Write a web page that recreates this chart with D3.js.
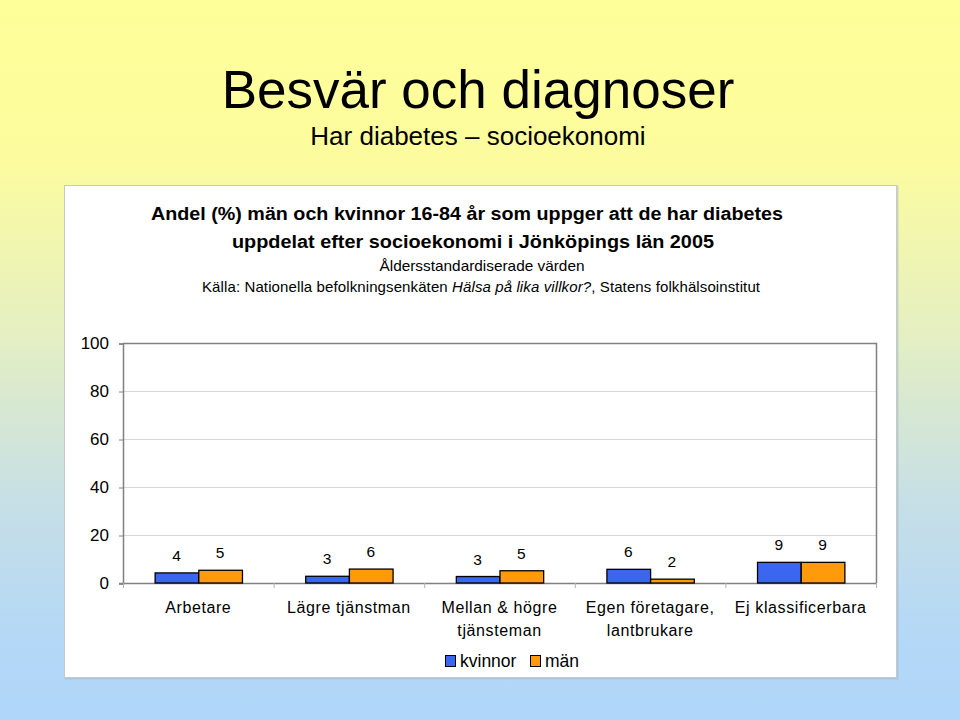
<!DOCTYPE html>
<html><head><meta charset="utf-8">
<script src="https://cdn.jsdelivr.net/npm/d3@7/dist/d3.min.js"></script>
<style>body{margin:0;padding:0;overflow:hidden}svg{display:block}</style>
</head><body>
<script>
const categories = [["Arbetare"], ["Lägre tjänstman"], ["Mellan & högre", "tjänsteman"], ["Egen företagare,", "lantbrukare"], ["Ej klassificerbara"]];
const kvinnor = [4.2, 2.8, 2.7, 5.7, 8.6];
const man = [5.3, 5.8, 5.1, 1.6, 8.6];
const seriesNames = ["kvinnor", "män"];
const yTicks = [0, 20, 40, 60, 80, 100];

const W = 960, H = 720;
const svg = d3.select("body").append("svg").attr("width", W).attr("height", H);
const defs = svg.append("defs");
const lg = defs.append("linearGradient").attr("id", "bg").attr("x1", 0).attr("y1", 0).attr("x2", 0).attr("y2", 1);
[[0, "#FFFF99"], [0.22, "#FCFC9E"], [0.45, "#E6F0C0"], [0.7, "#C6DFE6"], [0.88, "#B4D8F6"], [1, "#B0D6FA"]].forEach(s =>
  lg.append("stop").attr("offset", s[0]).attr("stop-color", s[1]));
svg.append("rect").attr("width", W).attr("height", H).attr("fill", "url(#bg)");

const font = "Liberation Sans, Arial, sans-serif";
svg.append("text").attr("x", 478).attr("y", 108).attr("text-anchor", "middle")
  .attr("font-family", font).attr("font-size", 53).text("Besvär och diagnoser");
svg.append("text").attr("x", 478).attr("y", 145).attr("text-anchor", "middle")
  .attr("font-family", font).attr("font-size", 26).text("Har diabetes – socioekonomi");

// white panel
svg.append("rect").attr("x", 65.5).attr("y", 186.5).attr("width", 832).attr("height", 492)
  .attr("fill", "none").attr("stroke", "#9fb6c8").attr("stroke-width", 2).attr("opacity", 0.5);
svg.append("rect").attr("x", 64.5).attr("y", 185.5).attr("width", 832).attr("height", 492)
  .attr("fill", "#fff").attr("stroke", "#c8c8c8");

const tg = svg.append("g").attr("font-family", font).attr("text-anchor", "middle");
tg.append("text").attr("x", 467).attr("y", 220).attr("font-size", 18).attr("font-weight", "bold")
  .attr("textLength", 632).attr("lengthAdjust", "spacingAndGlyphs")
  .text("Andel (%) män och kvinnor 16-84 år som uppger att de har diabetes");
tg.append("text").attr("x", 473).attr("y", 248).attr("font-size", 18).attr("font-weight", "bold")
  .attr("textLength", 482).attr("lengthAdjust", "spacingAndGlyphs")
  .text("uppdelat efter socioekonomi i Jönköpings län 2005");
tg.append("text").attr("x", 482).attr("y", 271).attr("font-size", 15)
  .attr("textLength", 205).attr("lengthAdjust", "spacingAndGlyphs")
  .text("Åldersstandardiserade värden");
const src = tg.append("text").attr("x", 481).attr("y", 292).attr("font-size", 15)
  .attr("textLength", 558).attr("lengthAdjust", "spacing");
src.append("tspan").text("Källa: Nationella befolkningsenkäten ");
src.append("tspan").attr("font-style", "italic").text("Hälsa på lika villkor?");
src.append("tspan").text(", Statens folkhälsoinstitut");

// plot
const x0 = 123, x1 = 876, yTop = 343, yBot = 583;
const x = d3.scaleBand().domain(d3.range(categories.length)).range([x0, x1]).paddingInner(0.42).paddingOuter(0.21);
const xs = d3.scaleBand().domain(seriesNames).range([0, x.bandwidth()]);
const y = d3.scaleLinear().domain([0, 100]).range([yBot, yTop]);

const g = svg.append("g");
g.selectAll("line.grid").data(yTicks.filter(t => t > 0 && t < 100)).enter().append("line")
  .attr("x1", x0).attr("x2", x1).attr("y1", d => y(d) + 0.5).attr("y2", d => y(d) + 0.5)
  .attr("stroke", "#d8d8d8");
g.append("path").attr("d", `M${x0},${yTop + 0.5}H${x1 + 0.5}V${yBot}`).attr("fill", "none").attr("stroke", "#808080").attr("stroke-width", 1.5);

const yAxis = d3.axisLeft(y).tickValues(yTicks).tickSize(4).tickPadding(10);
const ya = svg.append("g").attr("transform", `translate(${x0},0.5)`).call(yAxis);
ya.select(".domain").attr("stroke", "#808080").attr("stroke-width", 1.5);
ya.selectAll(".tick line").attr("stroke", "#808080");
ya.selectAll("text").attr("font-family", font).attr("font-size", 17).attr("fill", "#000");

const bounds = d3.range(categories.length + 1).map(i => x0 + i * (x1 - x0) / categories.length);
svg.append("line").attr("x1", x0 - 4).attr("x2", x1).attr("y1", yBot + 0.5).attr("y2", yBot + 0.5)
  .attr("stroke", "#808080").attr("stroke-width", 1.5);
svg.selectAll("line.xt").data(bounds).enter().append("line")
  .attr("x1", d => d + 0.5).attr("x2", d => d + 0.5).attr("y1", yBot).attr("y2", yBot + 5).attr("stroke", "#b0b0b0");

const colors = { "kvinnor": "#3A66F0", "män": "#FF9A0A" };
const data = categories.map((c, i) => ({ i, vals: [{ s: "kvinnor", v: kvinnor[i] }, { s: "män", v: man[i] }] }));
const grp = svg.selectAll("g.cat").data(data).enter().append("g").attr("transform", d => `translate(${x(d.i)},0)`);
grp.selectAll("rect").data(d => d.vals).enter().append("rect")
  .attr("x", d => xs(d.s) + 0.5).attr("y", d => y(d.v)).attr("width", xs.bandwidth())
  .attr("height", d => yBot - y(d.v)).attr("fill", d => colors[d.s]).attr("stroke", "#000").attr("stroke-width", 1.3);
grp.selectAll("text").data(d => d.vals).enter().append("text")
  .attr("x", d => xs(d.s) + xs.bandwidth() / 2).attr("y", d => y(d.v) - 12)
  .attr("text-anchor", "middle").attr("font-family", font).attr("font-size", 15.5)
  .text(d => d3.format(".0f")(d.v));

const cl = svg.selectAll("text.cl").data(categories).enter().append("text")
  .attr("text-anchor", "middle").attr("font-family", font).attr("font-size", 16).attr("letter-spacing", 0.6)
  .attr("x", (d, i) => x(i) + x.bandwidth() / 2).attr("y", 613);
cl.selectAll("tspan").data(d => d).enter().append("tspan")
  .attr("x", function () { return d3.select(this.parentNode).attr("x"); })
  .attr("dy", (d, j) => j === 0 ? 0 : 23).text(d => d);

const leg = svg.append("g").attr("font-family", font).attr("font-size", 17.5);
const legX = [445, 530];
seriesNames.forEach((s, k) => {
  leg.append("rect").attr("x", legX[k] + 0.5).attr("y", 655.5).attr("width", 10).attr("height", 11)
    .attr("fill", colors[s]).attr("stroke", "#000");
  leg.append("text").attr("x", legX[k] + 15).attr("y", 667).text(s);
});
</script>
</body></html>
